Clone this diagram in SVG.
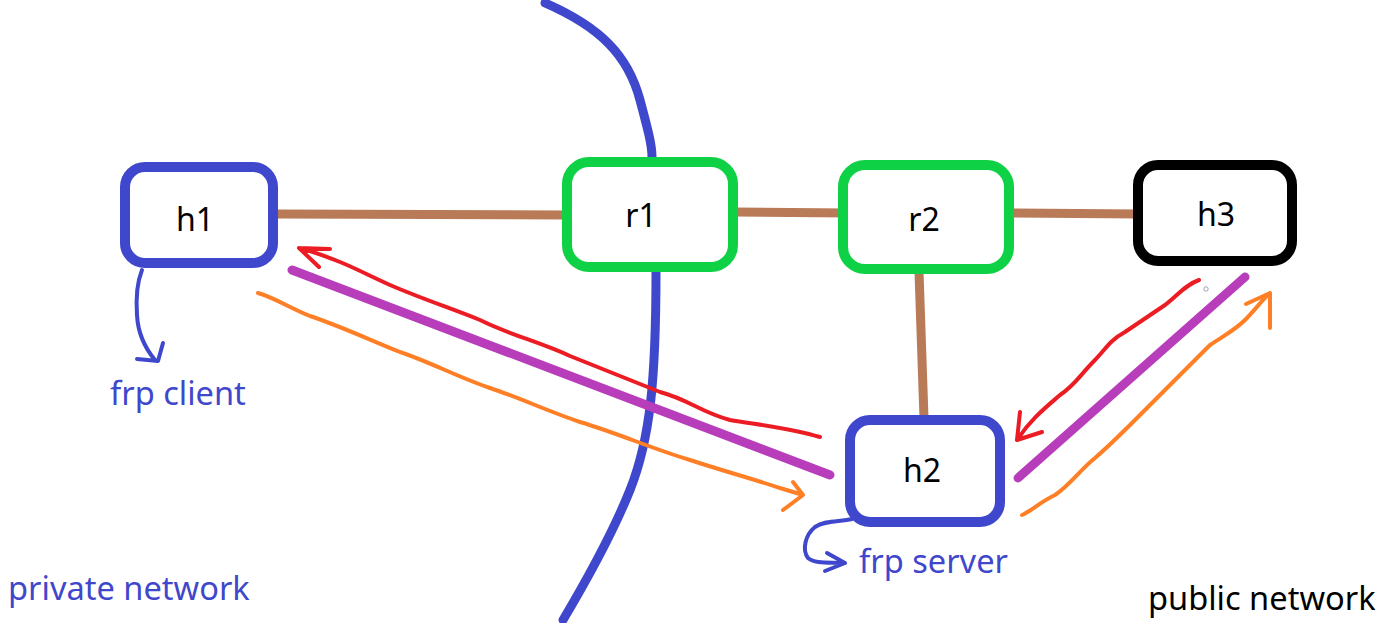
<svg xmlns="http://www.w3.org/2000/svg" width="1390" height="623" viewBox="0 0 1390 623">
<style>
.box{fill:#fff;stroke-width:10}
.lbl{font-family:"Noto Sans","Open Sans",sans-serif;font-size:32px;fill:#000;text-anchor:middle}
.note{font-family:"Noto Sans","Open Sans",sans-serif;font-size:32.6px;fill:#3f48cc}
.link{stroke:#b97a57;stroke-width:9;stroke-linecap:round;fill:none}
.tun{stroke:#b83dba;stroke-width:9;stroke-linecap:round;fill:none}
.red{stroke:#ec1c24;stroke-width:4;stroke-linecap:round;stroke-linejoin:round;fill:none}
.org{stroke:#ff7f27;stroke-width:4;stroke-linecap:round;stroke-linejoin:round;fill:none}
.bl{stroke:#3f48cc;stroke-width:4;stroke-linecap:round;stroke-linejoin:round;fill:none}
.border{stroke:#3f48cc;stroke-width:9;stroke-linecap:round;fill:none}
</style>
<rect width="1390" height="623" fill="#fff"/>
<g id="boundary">
<path class="border" d="M545,3 C600,27 628,55 640,100 C648,130 652,145 652,157"/>
<path class="border" d="M656,272 C656,380 650,440 630,490 C610,540 582,588 563,620"/>
</g>
<g id="connectors">
<path class="link" d="M276,214 L567,215"/>
<path class="link" d="M735,212 L848,213"/>
<path class="link" d="M1014,213 L1138,214"/>
<path class="link" d="M919,272 L924,418"/>
<path class="tun" d="M292,270 L830,475"/>
<path class="tun" d="M1018,478 L1245,277"/>
<path class="red" d="M820,437 C790,428 760,425 730,420 C700,412 690,400 660,392 C630,380 600,368 570,356 C540,342 510,335 480,320 C450,308 420,298 390,285 C370,276 355,268 340,262 C325,256 315,252 299,248 M299,248 L330,249 M299,248 L319,267"/>
<path class="org" d="M258,293 C275,298 290,308 310,316 C340,326 370,340 400,352 C430,362 460,378 490,388 C520,398 550,412 580,422 C620,434 650,448 690,460 C720,470 750,478 780,488 L803,495 M803,495 L793,482 M803,495 L783,510"/>
<path class="red" d="M1199,280 C1185,285 1178,295 1165,305 C1150,315 1140,322 1125,332 C1110,340 1105,350 1095,360 C1080,375 1075,385 1060,395 C1045,408 1030,420 1017,440 M1017,440 L1020,412 M1017,440 L1042,432"/>
<path class="org" d="M1022,515 C1030,512 1040,502 1055,495 C1070,485 1080,470 1095,458 C1110,445 1120,435 1135,420 C1150,405 1160,395 1175,380 C1190,365 1200,355 1210,345 C1225,335 1235,330 1245,320 C1255,310 1262,300 1270,293 M1270,293 L1246,304 M1270,293 L1270,328"/>
<circle cx="1206" cy="289" r="2.2" fill="none" stroke="#a0a6b8" stroke-width="1"/>
<path class="bl" d="M142,270 C136,285 136,300 137,315 C138,335 145,348 155,360 M137,359 L158,361 L163,343"/>
<path class="bl" d="M852,519 C840,522 825,520 815,527 C805,535 802,550 808,558 C815,564 830,562 845,563 M827,553 L845,563 L825,571"/>
</g>
<g id="h1">
<rect class="box" x="125" y="167" width="148" height="96" rx="20" stroke="#3f48cc"/>
<text class="lbl" x="195" y="231">h1</text>
</g>
<g id="r1">
<rect class="box" x="567" y="162" width="166" height="105" rx="22" stroke="#0ed145"/>
<text class="lbl" x="641" y="227">r1</text>
</g>
<g id="r2">
<rect class="box" x="843" y="165" width="166" height="104" rx="22" stroke="#0ed145"/>
<text class="lbl" x="924" y="231">r2</text>
</g>
<g id="h3">
<rect class="box" x="1138" y="165" width="154" height="96" rx="20" stroke="#000"/>
<text class="lbl" x="1216" y="226">h3</text>
</g>
<g id="h2">
<rect class="box" x="850" y="420" width="150" height="102" rx="20" stroke="#3f48cc"/>
<text class="lbl" x="922" y="482">h2</text>
</g>
<g id="labels">
<text class="note" x="110" y="405">frp client</text>
<text class="note" x="859" y="573">frp server</text>
<text class="note" x="8" y="600">private network</text>
<text class="note" x="1148" y="610" style="fill:#000">public network</text>
</g>
</svg>
